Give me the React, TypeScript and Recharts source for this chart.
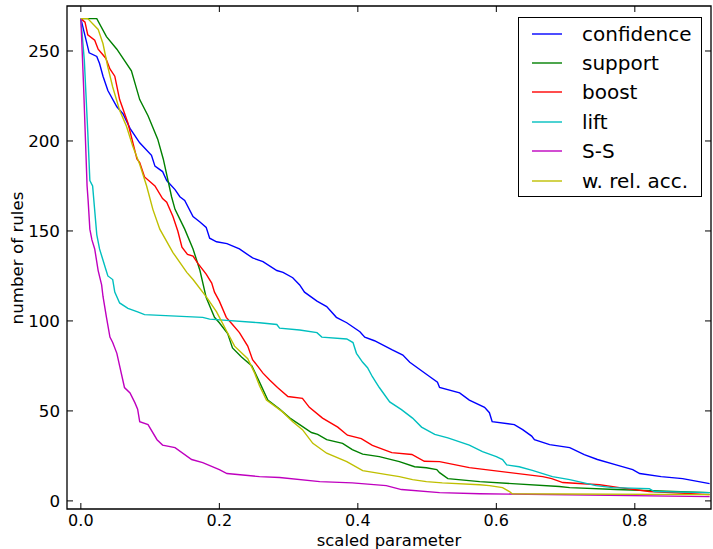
import { LineChart, Line, XAxis, YAxis, Legend, ReferenceArea } from "recharts";

// values: [scaled parameter, number of rules]
const confidence = [
  [0, 268], [0.012, 249], [0.023, 247], [0.027, 243], [0.032, 236], [0.039, 228],
  [0.052, 219], [0.061, 215], [0.071, 207], [0.085, 199], [0.102, 192], [0.107, 186],
  [0.118, 183], [0.124, 178], [0.136, 173], [0.143, 169], [0.15, 167], [0.162, 158],
  [0.172, 155], [0.181, 152], [0.186, 146], [0.196, 144], [0.211, 143], [0.229, 140],
  [0.248, 135], [0.263, 133], [0.283, 128], [0.292, 127], [0.306, 124], [0.316, 120],
  [0.323, 116], [0.341, 111], [0.355, 108], [0.369, 102], [0.384, 99], [0.403, 94],
  [0.41, 91], [0.424, 89], [0.449, 84], [0.465, 81], [0.475, 77], [0.504, 69],
  [0.515, 66], [0.518, 63], [0.547, 60], [0.561, 56], [0.583, 52], [0.59, 49],
  [0.594, 44], [0.626, 42.4], [0.638, 39.6], [0.651, 36], [0.655, 34], [0.677, 31.3],
  [0.706, 29.6], [0.727, 25.7], [0.746, 23], [0.773, 20], [0.797, 17.4], [0.807, 15.2],
  [0.838, 13.5], [0.869, 12.4], [0.908, 9.6],
];

const support = [
  [0, 268], [0.023, 268], [0.037, 258], [0.052, 251], [0.073, 239], [0.085, 223],
  [0.097, 214], [0.111, 201], [0.119, 190], [0.131, 169], [0.136, 162], [0.15, 151],
  [0.162, 140], [0.172, 128], [0.181, 113], [0.193, 102], [0.2, 99], [0.212, 93],
  [0.219, 85], [0.232, 80], [0.247, 75], [0.258, 66], [0.27, 56], [0.287, 51],
  [0.302, 46], [0.316, 42.4], [0.333, 38], [0.342, 37], [0.355, 34], [0.378, 32],
  [0.392, 28.5], [0.407, 26], [0.431, 24.6], [0.46, 21.8], [0.482, 19], [0.499, 18.4],
  [0.514, 17.4], [0.518, 15.7], [0.53, 12.4], [0.576, 10.7], [0.691, 8], [0.706, 7.4],
  [0.773, 6.3], [0.908, 4.6],
];

const boost = [
  [0, 268], [0.006, 266], [0.01, 259], [0.02, 256], [0.025, 251], [0.036, 246],
  [0.042, 240], [0.049, 236], [0.056, 223], [0.068, 210], [0.081, 190], [0.085, 188],
  [0.092, 180], [0.107, 175], [0.118, 168], [0.124, 166], [0.133, 158], [0.14, 150],
  [0.146, 141], [0.154, 137], [0.162, 136], [0.169, 132], [0.181, 126], [0.189, 121],
  [0.193, 116], [0.2, 111], [0.21, 102], [0.219, 98], [0.229, 93.5], [0.241, 86],
  [0.248, 78.5], [0.263, 71], [0.273, 67], [0.284, 63], [0.299, 58], [0.32, 57],
  [0.33, 52], [0.349, 46], [0.371, 41], [0.385, 36.5], [0.405, 34.6], [0.421, 30.9],
  [0.449, 26.8], [0.478, 25.8], [0.496, 22], [0.518, 21.8], [0.561, 18.5], [0.667, 13.5],
  [0.68, 12.4], [0.696, 10.2], [0.749, 9], [0.778, 7.4], [0.821, 5.2], [0.908, 3.5],
];

const lift = [
  [0, 268], [0.005, 245], [0.01, 205], [0.013, 178], [0.017, 175], [0.023, 148],
  [0.027, 140], [0.035, 130], [0.039, 125], [0.046, 123], [0.049, 116], [0.056, 110],
  [0.068, 107], [0.082, 105], [0.092, 103.5], [0.176, 102], [0.186, 101], [0.258, 99],
  [0.283, 98], [0.287, 96], [0.316, 95], [0.341, 93.5], [0.348, 91], [0.384, 90],
  [0.393, 88], [0.398, 82], [0.407, 77], [0.414, 74], [0.421, 69], [0.431, 63],
  [0.446, 55], [0.463, 50.7], [0.479, 46], [0.492, 41], [0.511, 37], [0.53, 35],
  [0.561, 31], [0.58, 27.4], [0.6, 24.6], [0.609, 23], [0.615, 20], [0.633, 19],
  [0.652, 17], [0.681, 13.5], [0.706, 11.8], [0.744, 8.5], [0.768, 7.4], [0.821, 6.8],
  [0.828, 5.2], [0.908, 4.6],
];

const ss = [
  [0, 268], [0.004, 230], [0.009, 175], [0.0105, 167], [0.013, 151], [0.016, 145],
  [0.02, 140], [0.025, 128], [0.03, 120], [0.032, 113.6], [0.037, 102], [0.042, 91],
  [0.046, 88], [0.052, 82], [0.056, 75], [0.063, 63], [0.071, 60], [0.078, 54.6],
  [0.082, 51], [0.085, 44], [0.097, 42.4], [0.11, 34], [0.118, 31], [0.136, 29.6],
  [0.16, 23], [0.176, 21.3], [0.2, 17.4], [0.211, 15.2], [0.258, 13.5], [0.287, 13],
  [0.345, 10.7], [0.392, 10], [0.441, 8.5], [0.463, 6.3], [0.518, 4.6], [0.576, 4],
  [0.908, 2.4],
];

const wRelAcc = [
  [0, 268], [0.01, 268], [0.025, 262], [0.032, 254], [0.039, 241], [0.046, 230],
  [0.056, 217], [0.066, 208], [0.075, 197], [0.085, 187], [0.095, 175], [0.104, 162],
  [0.114, 151], [0.133, 138], [0.153, 127], [0.162, 123], [0.182, 113], [0.196, 105],
  [0.211, 94], [0.222, 86], [0.241, 79], [0.251, 71], [0.258, 64], [0.268, 56],
  [0.291, 49.6], [0.306, 44], [0.32, 39.6], [0.335, 32], [0.355, 26.5], [0.384, 21.8],
  [0.407, 16.8], [0.442, 14.6], [0.46, 13.5], [0.479, 11.8], [0.499, 10.7], [0.522, 10],
  [0.576, 9], [0.59, 8.5], [0.609, 7.4], [0.619, 5.2], [0.623, 4], [0.908, 3.5],
];

const xTicks = [0, 0.2, 0.4, 0.6, 0.8];
const yTicks = [0, 50, 100, 150, 200, 250];

const toPoints = (pts: number[][]) => pts.map(([x, y]) => ({ x, y }));

const series = [
  { name: "confidence", color: "#0000ff", data: toPoints(confidence) },
  { name: "support", color: "#008000", data: toPoints(support) },
  { name: "boost", color: "#ff0000", data: toPoints(boost) },
  { name: "lift", color: "#00bfbf", data: toPoints(lift) },
  { name: "S-S", color: "#bf00bf", data: toPoints(ss) },
  { name: "w. rel. acc.", color: "#bfbf00", data: toPoints(wRelAcc) },
];

const FONT = "'DejaVu Sans', sans-serif";
const LEFT = 67;
const RIGHT = 711;
const TOP = 6;
const BOTTOM = 509;
const TICK = 6;

// matplotlib-style ticks: pointing inward, on both opposite spines
const YTick = (props: any) => {
  const { y, payload } = props;
  return (
    <g>
      <line x1={LEFT} x2={LEFT + TICK} y1={y} y2={y} stroke="#000" />
      <line x1={RIGHT - TICK} x2={RIGHT} y1={y} y2={y} stroke="#000" />
      <text x={60} y={y + 6} textAnchor="end" fontSize={16.7} fontFamily={FONT} fill="#000">
        {payload.value}
      </text>
    </g>
  );
};

const XTick = (props: any) => {
  const { x, payload } = props;
  return (
    <g>
      <line x1={x} x2={x} y1={BOTTOM - TICK} y2={BOTTOM} stroke="#000" />
      <line x1={x} x2={x} y1={TOP} y2={TOP + TICK} stroke="#000" />
      <text x={x} y={525.5} textAnchor="middle" fontSize={16} fontFamily={FONT} fill="#000">
        {Number(payload.value).toFixed(1)}
      </text>
    </g>
  );
};

const LegendBox = () => (
  <div
    style={{
      width: 182,
      height: 177,
      border: "1px solid #000",
      background: "#fff",
      paddingTop: 1,
      boxSizing: "content-box",
      fontFamily: FONT,
      fontSize: 20,
    }}
  >
    {series.map((s) => (
      <div key={s.name} style={{ height: 29.4, display: "flex", alignItems: "center" }}>
        <svg width={62} height={10} style={{ flex: "none" }}>
          <line x1={13} x2={43} y1={5} y2={5} stroke={s.color} strokeWidth={1.4} />
        </svg>
        <span style={{ marginLeft: 1, lineHeight: 1 }}>{s.name}</span>
      </div>
    ))}
  </div>
);

export default function App() {
  return (
    <div style={{ position: "absolute", left: 0, top: 0, background: "#fff" }}>
      <LineChart width={713} height={549} margin={{ top: TOP, right: 713 - RIGHT, left: 0, bottom: 0 }}>
        <XAxis
          dataKey="x"
          type="number"
          domain={[-0.02, 0.91]}
          ticks={xTicks}
          interval={0}
          allowDataOverflow
          height={549 - BOTTOM}
          axisLine={false}
          tickLine={false}
          tick={<XTick />}
          label={{
            content: () => (
              <text x={389} y={546} textAnchor="middle" fontSize={16.4} fontFamily={FONT} fill="#000">
                scaled parameter
              </text>
            ),
          }}
        />
        <YAxis
          type="number"
          domain={[-4.5, 275]}
          ticks={yTicks}
          interval={0}
          allowDataOverflow
          width={LEFT}
          axisLine={false}
          tickLine={false}
          tick={<YTick />}
          label={{
            content: () => (
              <text
                x={17}
                y={258}
                transform="rotate(-90, 17, 258)"
                textAnchor="middle"
                dominantBaseline="central"
                fontSize={16.7}
                fontFamily={FONT}
                fill="#000"
              >
                number of rules
              </text>
            ),
          }}
        />
        {series.map((s) => (
          <Line
            key={s.name}
            data={s.data}
            dataKey="y"
            name={s.name}
            type="linear"
            stroke={s.color}
            strokeWidth={1.4}
            dot={false}
            activeDot={false}
            isAnimationActive={false}
          />
        ))}
        <ReferenceArea
          x1={-0.02}
          x2={0.91}
          y1={-4.5}
          y2={275}
          fill="none"
          stroke="#000"
          strokeWidth={1.3}
          ifOverflow="visible"
        />
        <Legend
          layout="vertical"
          align="center"
          verticalAlign="middle"
          wrapperStyle={{ left: 518, top: 17, width: 184 }}
          content={() => <LegendBox />}
        />
      </LineChart>
    </div>
  );
}
